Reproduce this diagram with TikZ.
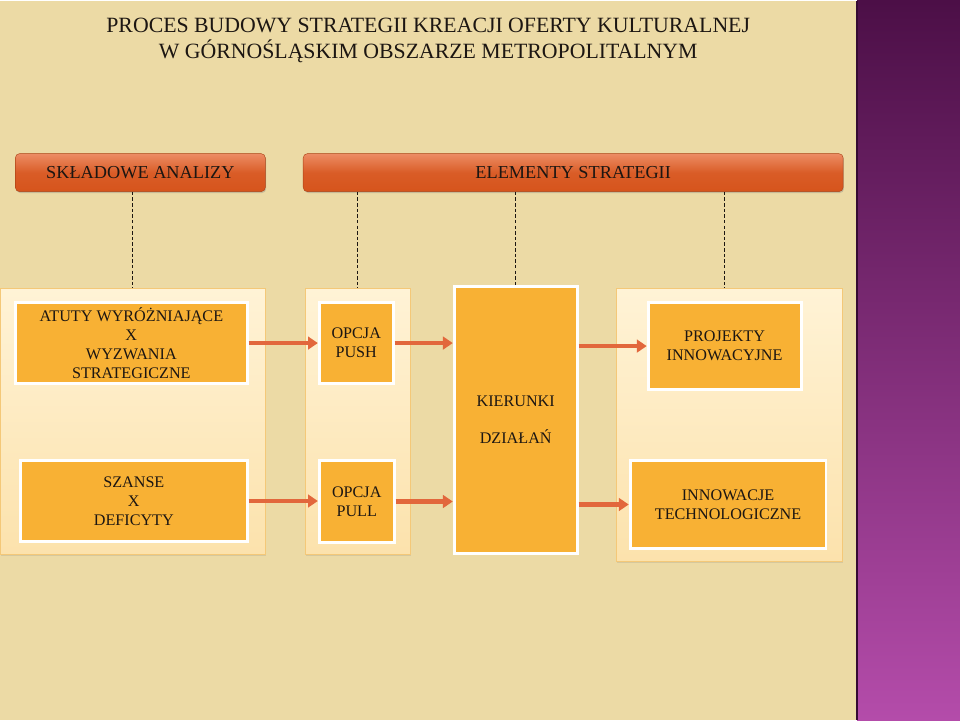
\documentclass[tikz,border=0pt]{standalone}
\usepackage{fontspec}
\setmainfont{Liberation Serif}
\usepackage{tikz}
\usetikzlibrary{arrows.meta,positioning,shadows}

\definecolor{paper}{RGB}{236,218,165}
\definecolor{plumtop}{RGB}{76,15,71}
\definecolor{plumbot}{RGB}{180,76,170}
\definecolor{bartop}{RGB}{236,140,100}
\definecolor{barbot}{RGB}{214,84,28}
\definecolor{boxorange}{RGB}{248,177,52}
\definecolor{paneltop}{RGB}{255,243,214}
\definecolor{panelbot}{RGB}{252,226,172}
\definecolor{panelline}{RGB}{244,200,120}
\definecolor{arrowred}{RGB}{226,103,60}
\definecolor{ink}{RGB}{28,22,18}

\begin{document}
\begin{tikzpicture}[
    x=0.025cm, y=-0.025cm,
    header/.style={
      rectangle, rounded corners=3pt,
      top color=bartop, bottom color=barbot, middle color=barbot!85!bartop,
      draw=barbot!80!black, line width=0.3pt,
      text=ink, font=\fontsize{13}{15}\selectfont,
      minimum height=0.95cm,
      drop shadow={opacity=0.35, shadow xshift=0.6pt, shadow yshift=-1pt},
    },
    panel/.style={
      rectangle, top color=paneltop, bottom color=panelbot,
      draw=panelline, line width=0.5pt,
      drop shadow={opacity=0.2, shadow xshift=0.8pt, shadow yshift=-0.8pt},
    },
    item/.style={
      rectangle, fill=boxorange, draw=white, line width=2pt,
      align=center, text=ink, font=\fontsize{11.5}{13.5}\selectfont,
      inner sep=1pt,
      drop shadow={opacity=0.3, shadow xshift=0.8pt, shadow yshift=-0.8pt},
    },
    arr/.style={-{Triangle[length=7pt,width=9pt]}, line width=3pt, arrowred},
    link/.style={dashed, dash pattern=on 2.5pt off 1.5pt, line width=0.7pt, ink},
  ]

  % Background: paper sheet and purple strip
  \fill[paper] (0,0) rectangle (857,720);
  \shade[top color=plumtop, bottom color=plumbot] (857,0) rectangle (960,720);
  \draw[plumtop!70!black, line width=1pt] (857,0) -- (857,720);

  % Title
  \node[align=center, text=ink, font=\fontsize{15.5}{18.5}\selectfont] (title) at (428,40)
    {PROCES BUDOWY STRATEGII KREACJI OFERTY KULTURALNEJ\\
     W GÓRNOŚLĄSKIM OBSZARZE METROPOLITALNYM};

  % Header bars
  \node[header, minimum width=6.25cm] (sklad) at (140,172) {SKŁADOWE ANALIZY};
  \node[header, minimum width=13.5cm] (elem) at (573,172) {ELEMENTY STRATEGII};

  % Panels
  \node[panel, minimum width=6.625cm, minimum height=6.65cm] (lpanel) at (132.5,421) {};
  \node[panel, minimum width=2.625cm, minimum height=6.65cm] (mpanel) at (357.5,421) {};
  \node[panel, minimum width=5.65cm, minimum height=6.825cm] (rpanel) at (729,424.5) {};

  % Analysis components
  \node[item, minimum width=5.8cm, minimum height=2.025cm] (atuty) at (131,342.5)
    {ATUTY WYRÓŻNIAJĄCE\\X\\WYZWANIA\\STRATEGICZNE};
  \node[item, minimum width=5.675cm, minimum height=2.025cm] (szanse) at (133.5,500.5)
    {SZANSE\\X\\DEFICYTY};

  % Options
  \node[item, minimum width=1.85cm, minimum height=2.025cm] (push) at (356,342.5)
    {OPCJA\\PUSH};
  \node[item, minimum width=1.875cm, minimum height=2.05cm] (pull) at (356.5,501)
    {OPCJA\\PULL};

  % Directions of action
  \node[item, minimum width=3.075cm, minimum height=6.675cm] (kier) at (515.5,419.5)
    {KIERUNKI\\[13pt]DZIAŁAŃ};

  % Innovation
  \node[item, minimum width=3.825cm, minimum height=2.175cm] (projekty) at (724.5,345.5)
    {PROJEKTY\\INNOWACYJNE};
  \node[item, minimum width=4.9cm, minimum height=2.2cm] (innow) at (728,504)
    {INNOWACJE\\TECHNOLOGICZNE};

  % Dashed links from headers
  \draw[link] (lpanel.north |- sklad.south) -- (lpanel.north);
  \draw[link] (mpanel.north |- elem.south) -- (mpanel.north);
  \draw[link] (kier.north |- elem.south) -- (kier.north);
  \draw[link] (projekty.north |- elem.south) -- (projekty.north |- rpanel.north);

  % Flow arrows
  \draw[arr] (atuty.east) -- (push.west);
  \draw[arr] (szanse.east) -- (szanse.east -| pull.west);
  \draw[arr] (push.east) -- (push.east -| kier.west);
  \draw[arr] (pull.east) -- (pull.east -| kier.west);
  \draw[arr] (kier.east |- projekty.west) -- (projekty.west);
  \draw[arr] (kier.east |- innow.west) -- (innow.west);

\end{tikzpicture}
\end{document}
